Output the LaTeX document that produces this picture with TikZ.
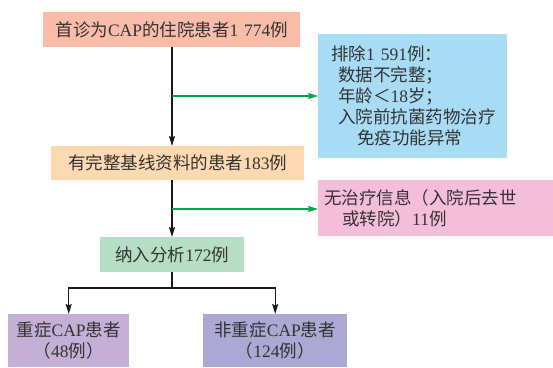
\documentclass[tikz,border=0pt]{standalone}
\usepackage{fontspec}
\setmainfont{Liberation Serif}
\newfontfamily\cjk{Noto Sans CJK SC}
\usetikzlibrary{arrows.meta,calc}
\newcommand{\C}[1]{{\cjk #1}}
\definecolor{cA}{HTML}{F8BCA8}
\definecolor{cB}{HTML}{A8DCF5}
\definecolor{cC}{HTML}{FCD9B0}
\definecolor{cD}{HTML}{F5BED8}
\definecolor{cE}{HTML}{B5DEC5}
\definecolor{cF}{HTML}{C4B0D6}
\definecolor{cG}{HTML}{ABA8D3}
\definecolor{txt}{HTML}{333333}
\definecolor{grn}{HTML}{00A550}
\tikzset{
  box/.style={rectangle, anchor=north west, inner sep=0pt, text=txt,
    font=\fontsize{17.5}{21}\selectfont, align=center},
  blk/.style={draw=black!90, line width=1.4pt, -{Stealth[length=10pt,width=6pt,inset=1.5pt]}},
  grnarr/.style={draw=grn, line width=1.3pt, -{Stealth[length=10pt,width=6pt,inset=1.5pt]}},
  plain/.style={draw=black!90, line width=1.4pt}
}
\begin{document}
\begin{tikzpicture}[x=1pt,y=-1pt]
\useasboundingbox (0,0) rectangle (553,367);
\node[box, fill=cA, minimum width=257pt, minimum height=35pt] (b1) at (43,12)
  {\C{首诊为}CAP\C{的住院患者}1\,\,774\C{例}};
\node[box, fill=cB, minimum width=189pt, minimum height=124pt, align=left, text width=185pt, inner xsep=0pt] (b2) at (318,34)
  {\hspace*{11pt}\C{排除}1\,\,591\C{例：}\\
   \hspace*{18pt}\C{数据不完整；}\\
   \hspace*{18pt}\C{年龄＜}18\C{岁；}\\
   \hspace*{18pt}\C{入院前抗菌药物治疗}\\
   \hspace*{37pt}\C{免疫功能异常}};
\node[box, fill=cC, minimum width=253pt, minimum height=34pt] (b3) at (51,146)
  {\C{有完整基线资料的患者}183\C{例}};
\node[box, fill=cD, minimum width=235pt, minimum height=56pt, align=left, text width=235pt] (b4) at (318,180)
  {\hspace*{6pt}\C{无治疗信息（入院后去世}\\
   \hspace*{24pt}\C{或转院）}11\C{例}};
\node[box, fill=cE, minimum width=144pt, minimum height=35pt] (b5) at (100,237)
  {\C{纳入分析}172\C{例}};
\node[box, fill=cF, minimum width=121pt, minimum height=53pt] (b6) at (8,314)
  {\C{重症}CAP\C{患者}\\\C{（}48\C{例）}};
\node[box, fill=cG, minimum width=144pt, minimum height=53pt] (b7) at (203,314)
  {\C{非重症}CAP\C{患者}\\\C{（}124\C{例）}};
\coordinate (j1) at (172,96);
\coordinate (j2) at (172,209);
\coordinate (j3) at (172,288);
\draw[blk] (b1.south -| j1) -- (b3.north -| j1);
\draw[grnarr] (j1) -- (b2.west |- j1);
\draw[blk] (b3.south -| j2) -- (b5.north -| j2);
\draw[grnarr] (j2) -- (b4.west |- j2);
\draw[plain] (b5.south -| j3) -- (j3);
\draw[blk] (j3) -| (b6.north);
\draw[blk] (j3) -| (b7.north);
\end{tikzpicture}
\end{document}
